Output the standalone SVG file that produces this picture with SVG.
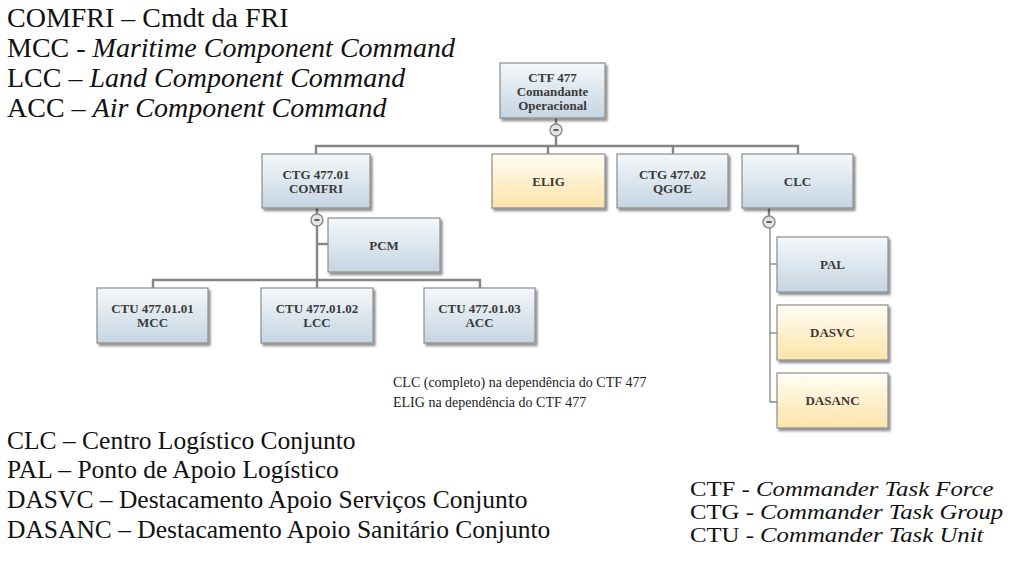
<svg xmlns="http://www.w3.org/2000/svg" width="1017" height="564" viewBox="0 0 1017 564">
  <defs>
    <linearGradient id="gBlue" x1="0" y1="0" x2="0" y2="1">
      <stop offset="0" stop-color="#f5f8fb"/>
      <stop offset="1" stop-color="#c4d5e2"/>
    </linearGradient>
    <linearGradient id="gYellow" x1="0" y1="0" x2="0" y2="1">
      <stop offset="0" stop-color="#fffdf5"/>
      <stop offset="1" stop-color="#fde4a8"/>
    </linearGradient>
    <filter id="shadow" x="-10%" y="-10%" width="130%" height="140%">
      <feDropShadow dx="2" dy="2.5" stdDeviation="1.3" flood-color="#000" flood-opacity="0.45"/>
    </filter>
  </defs>
  <style>
    .box { stroke: #8c8c8c; stroke-width: 1.2; filter: url(#shadow); }
    .blue { fill: url(#gBlue); }
    .yellow { fill: url(#gYellow); }
    .lbl { font-family: "Liberation Serif", "Times New Roman", serif; font-weight: bold; font-size: 13px; fill: #3a3a3a; text-anchor: middle; }
    .conn { fill: none; stroke: #858585; stroke-width: 2.4; }
    .thin { fill: none; stroke: #858585; stroke-width: 1.3; }
    .toggle circle { fill: #e4e4e4; stroke: #8a8a8a; stroke-width: 1.4; }
    .toggle line { stroke: #3c3c3c; stroke-width: 1.6; }
    .legend { font-family: "Liberation Serif", "Times New Roman", serif; fill: #111; }
    .note { font-family: "Liberation Serif", "Times New Roman", serif; font-size: 14px; fill: #222; }
  </style>

  <!-- connectors -->
  <g id="connectors">
    <polyline class="conn" points="556,118 556,146"/>
    <polyline class="conn" points="316,154 316,146 798,146 798,154"/>
    <polyline class="conn" points="548,146 548,154"/>
    <polyline class="conn" points="673,146 673,154"/>
    <polyline class="conn" points="317,208 317,280"/>
    <polyline class="conn" points="317,244 328,244"/>
    <polyline class="conn" points="153,288 153,280 480,280 480,288"/>
    <polyline class="conn" points="317,280 317,288"/>
    <polyline class="conn" points="769,208 769,222"/>
    <polyline class="thin" points="770,226 770,402 777,402"/>
    <polyline class="thin" points="770,264 777,264"/>
    <polyline class="thin" points="770,333 777,333"/>
  </g>

  <!-- collapse toggles -->
  <g class="toggle">
    <circle cx="556" cy="130" r="6"/><line x1="553.5" y1="130" x2="558.5" y2="130"/>
    <circle cx="317" cy="220" r="6"/><line x1="314.5" y1="220" x2="319.5" y2="220"/>
    <circle cx="769" cy="222" r="6"/><line x1="766.5" y1="222" x2="771.5" y2="222"/>
  </g>

  <g id="ctf477">
    <rect class="box blue" x="500" y="63" width="105" height="55"/>
    <text class="lbl" x="552.5" y="82">CTF 477</text>
    <text class="lbl" x="552.5" y="96">Comandante</text>
    <text class="lbl" x="552.5" y="110">Operacional</text>
  </g>
  <g id="ctg47701">
    <rect class="box blue" x="262" y="154" width="108" height="54"/>
    <text class="lbl" x="316" y="179">CTG 477.01</text>
    <text class="lbl" x="316" y="193">COMFRI</text>
  </g>
  <g id="elig">
    <rect class="box yellow" x="492" y="154" width="113" height="54"/>
    <text class="lbl" x="548.5" y="186">ELIG</text>
  </g>
  <g id="ctg47702">
    <rect class="box blue" x="617" y="154" width="111" height="54"/>
    <text class="lbl" x="672.5" y="179">CTG 477.02</text>
    <text class="lbl" x="672.5" y="193">QGOE</text>
  </g>
  <g id="clc">
    <rect class="box blue" x="742" y="154" width="111" height="54"/>
    <text class="lbl" x="797.5" y="186">CLC</text>
  </g>
  <g id="pcm">
    <rect class="box blue" x="328" y="218" width="112" height="54"/>
    <text class="lbl" x="384" y="250">PCM</text>
  </g>
  <g id="ctu4770101">
    <rect class="box blue" x="97" y="288" width="111" height="55"/>
    <text class="lbl" x="152.5" y="313">CTU 477.01.01</text>
    <text class="lbl" x="152.5" y="327">MCC</text>
  </g>
  <g id="ctu4770102">
    <rect class="box blue" x="261" y="288" width="112" height="55"/>
    <text class="lbl" x="317" y="313">CTU 477.01.02</text>
    <text class="lbl" x="317" y="327">LCC</text>
  </g>
  <g id="ctu4770103">
    <rect class="box blue" x="424" y="288" width="111" height="55"/>
    <text class="lbl" x="479.5" y="313">CTU 477.01.03</text>
    <text class="lbl" x="479.5" y="327">ACC</text>
  </g>
  <g id="pal">
    <rect class="box blue" x="777" y="237" width="111" height="55"/>
    <text class="lbl" x="832.5" y="269">PAL</text>
  </g>
  <g id="dasvc">
    <rect class="box yellow" x="777" y="305" width="111" height="55"/>
    <text class="lbl" x="832.5" y="337">DASVC</text>
  </g>
  <g id="dasanc">
    <rect class="box yellow" x="777" y="373" width="111" height="55"/>
    <text class="lbl" x="832.5" y="405">DASANC</text>
  </g>

  <!-- notes under the chart -->
  <text class="note" x="393" y="387">CLC (completo) na dependência do CTF 477</text>
  <text class="note" x="393" y="407">ELIG na dependência do CTF 477</text>

  <!-- abbreviation legends -->
  <g class="legend" font-size="28">
    <text x="7" y="27">COMFRI – Cmdt da FRI</text>
    <text x="7" y="57">MCC - <tspan font-style="italic">Maritime Component Command</tspan></text>
    <text x="7" y="87">LCC – <tspan font-style="italic">Land Component Command</tspan></text>
    <text x="7" y="117">ACC – <tspan font-style="italic">Air Component Command</tspan></text>
  </g>
  <g class="legend" font-size="25.5">
    <text x="7" y="449">CLC – Centro Logístico Conjunto</text>
    <text x="7" y="478">PAL – Ponto de Apoio Logístico</text>
    <text x="7" y="508">DASVC – Destacamento Apoio Serviços Conjunto</text>
    <text x="7" y="538">DASANC – Destacamento Apoio Sanitário Conjunto</text>
  </g>
  <g class="legend" font-size="21" transform="scale(1.18 1)">
    <text x="584.7" y="496">CTF - <tspan font-style="italic">Commander Task Force</tspan></text>
    <text x="584.7" y="519">CTG - <tspan font-style="italic">Commander Task Group</tspan></text>
    <text x="584.7" y="542">CTU - <tspan font-style="italic">Commander Task Unit</tspan></text>
  </g>
</svg>
